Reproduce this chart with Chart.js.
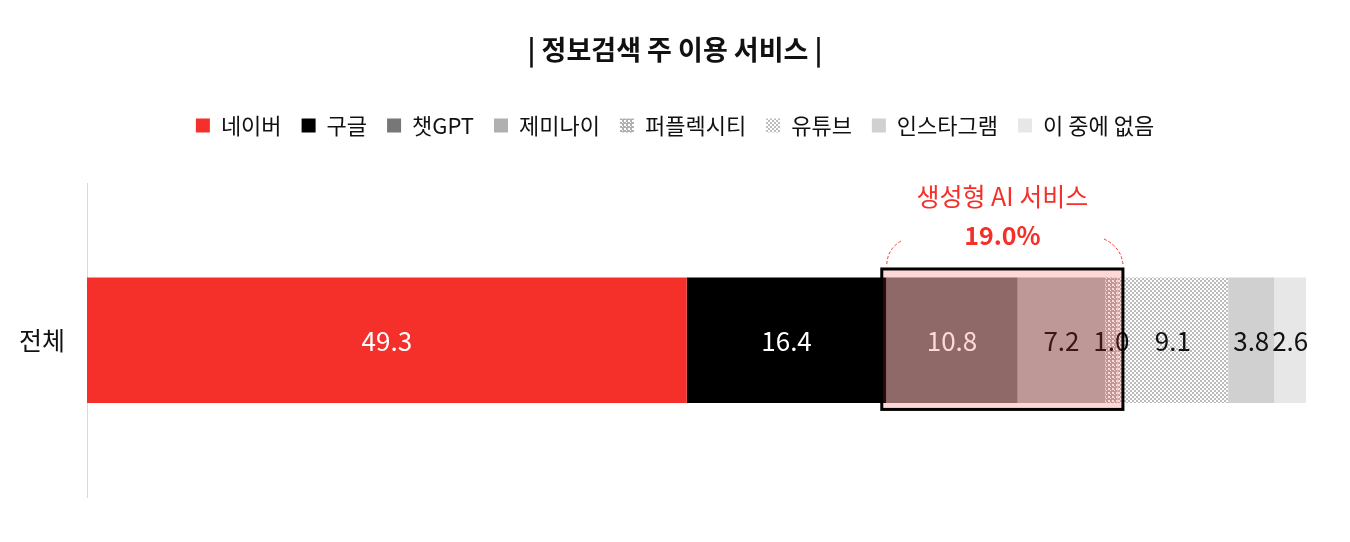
<!DOCTYPE html>
<html><head><meta charset="utf-8">
<script src="https://cdn.jsdelivr.net/npm/chart.js@4/dist/chart.umd.min.js"></script>
<style>html,body{margin:0;padding:0;background:#fff;}#wrap{width:1350px;height:542px;}</style>
</head><body><div id="wrap"><canvas id="c"></canvas></div>
<script>
const categories = ['전체'];
const seriesNames = ['네이버','구글','챗GPT','제미나이','퍼플렉시티','유튜브','인스타그램','이 중에 없음'];
const seriesValues = [49.3, 16.4, 10.8, 7.2, 1.0, 9.1, 3.8, 2.6];
const labelColors = ['#ffffff','#ffffff','#ffffff','#111111','#111111','#111111','#111111','#111111'];
const highlightSeries = [2, 3, 4];
const highlightTitle = '생성형 AI 서비스';
const highlightValue = '19.0%';
const chartTitle = '| 정보검색 주 이용 서비스 |';

const FONT = "'Noto Sans CJK KR', 'Noto Sans', sans-serif";
const RED = '#f5302a';

function makePattern(size, bg, fg, cells) {
  const c = document.createElement('canvas');
  c.width = size; c.height = size;
  const g = c.getContext('2d');
  g.fillStyle = bg; g.fillRect(0, 0, size, size);
  g.fillStyle = fg;
  cells.forEach(([x, y, w, h]) => g.fillRect(x, y, w, h));
  return g.createPattern(c, 'repeat');
}
const perplexPattern = makePattern(4, '#b0b0b0', '#ffffff', [[0,0,2,2],[2,2,1,1]]);
const youtubePattern = makePattern(4, '#ffffff', '#bcbcbc', [[0,0,2,2],[2,2,2,2]]);
const colors = [RED, '#000000', '#777777', '#b0b0b0', perplexPattern, youtubePattern, '#d0d0d0', '#e7e7e7'];

const total = seriesValues.reduce((a, b) => a + b, 0);

const datasets = seriesNames.map((name, i) => ({
  label: name,
  data: [seriesValues[i]],
  backgroundColor: colors[i],
  borderWidth: 0,
  barPercentage: 0.4,
  categoryPercentage: 1.0
}));

const valueLabels = {
  id: 'valueLabels',
  afterDatasetsDraw(chart) {
    const ctx = chart.ctx;
    ctx.save();
    ctx.font = '26px ' + FONT;
    ctx.textAlign = 'center';
    ctx.textBaseline = 'middle';
    chart.data.datasets.forEach((ds, i) => {
      const meta = chart.getDatasetMeta(i);
      meta.data.forEach((el) => {
        const p = el.getProps(['x', 'y', 'base'], true);
        ctx.fillStyle = labelColors[i];
        ctx.fillText(seriesValues[i].toFixed(1), (p.x + p.base) / 2, p.y + 1);
      });
    });
    ctx.restore();
  }
};

const highlight = {
  id: 'highlight',
  afterDraw(chart) {
    const ctx = chart.ctx;
    const first = highlightSeries[0], last = highlightSeries[highlightSeries.length - 1];
    const el0 = chart.getDatasetMeta(first).data[0].getProps(['x','y','base','height'], true);
    const el1 = chart.getDatasetMeta(last).data[0].getProps(['x','y','base','height'], true);
    const x0 = el0.base - 4.5, x1 = el1.x + 5.5;
    const top = el0.y - el0.height / 2 - 8.5, bot = el0.y + el0.height / 2 + 6.5;
    ctx.save();
    ctx.fillStyle = 'rgba(245,48,38,0.19)';
    ctx.fillRect(x0, top, x1 - x0, bot - top);
    ctx.strokeStyle = '#000';
    ctx.lineWidth = 3;
    ctx.strokeRect(x0, top, x1 - x0, bot - top);
    ctx.strokeStyle = RED;
    ctx.lineWidth = 1;
    ctx.setLineDash([3, 2]);
    ctx.beginPath();
    ctx.moveTo(x0 + 5, top - 5);
    ctx.quadraticCurveTo(x0 + 6, top - 21, x0 + 21, top - 29);
    ctx.stroke();
    ctx.beginPath();
    ctx.moveTo(x1 - 19, top - 30);
    ctx.quadraticCurveTo(x1 - 2, top - 22, x1, top - 5);
    ctx.stroke();
    ctx.setLineDash([]);
    const cx = (x0 + x1) / 2;
    ctx.fillStyle = RED;
    ctx.textAlign = 'center';
    ctx.textBaseline = 'middle';
    ctx.font = '25px ' + FONT;
    ctx.fillText(highlightTitle, cx, top - 72);
    ctx.font = 'bold 25px ' + FONT;
    ctx.fillText(highlightValue, cx, top - 33);
    ctx.restore();
  }
};

new Chart(document.getElementById('c'), {
  type: 'bar',
  data: { labels: categories, datasets },
  options: {
    indexAxis: 'y',
    responsive: true,
    maintainAspectRatio: false,
    animation: false,
    layout: { padding: { top: 0, left: 0, right: 0, bottom: 45 } },
    scales: {
      x: {
        stacked: true, min: 0, max: total, position: 'top',
        grid: { display: false }, border: { display: false },
        ticks: { display: false },
        afterFit(s) { s.height = 37; }
      },
      y: {
        stacked: true,
        grid: { display: false, drawTicks: false },
        border: { display: true, color: '#d9d9d9', width: 1 },
        ticks: { color: '#111', font: { size: 25, family: FONT }, padding: 22 },
        afterFit(s) { s.width = 87; }
      },
      yRight: {
        type: 'category', position: 'right', display: true,
        grid: { display: false, drawTicks: false }, border: { display: false },
        ticks: { display: false },
        afterFit(s) { s.width = 44; }
      }
    },
    plugins: {
      title: {
        display: true, text: chartTitle, color: '#111',
        font: { size: 27, weight: 'bold', family: FONT },
        padding: { top: 34, bottom: 28 }
      },
      legend: {
        display: true, position: 'top',
        labels: { color: '#111', boxWidth: 14, boxHeight: 14, padding: 20, font: { size: 22, family: FONT } }
      },
      tooltip: { enabled: false }
    }
  },
  plugins: [valueLabels, highlight]
});
</script></body></html>
